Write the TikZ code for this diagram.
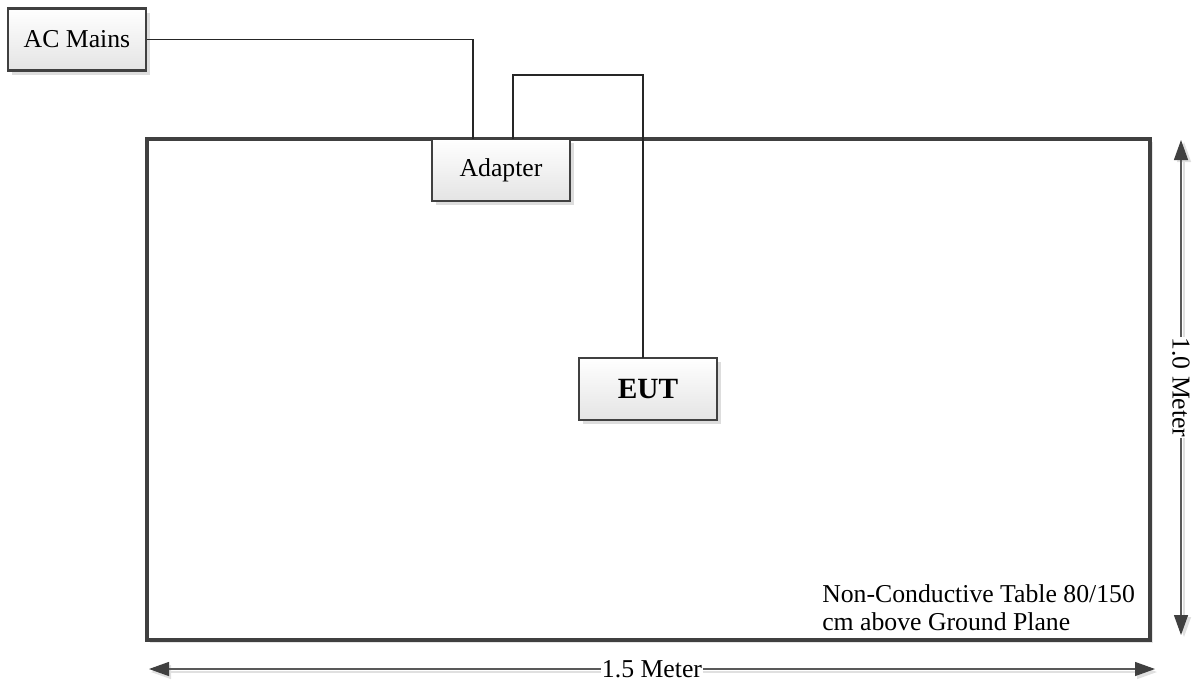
\documentclass[tikz,border=0pt]{standalone}
\usepackage{fontspec}
\setmainfont{Liberation Serif}
\usetikzlibrary{arrows.meta,shadows}

\definecolor{boxline}{HTML}{404040}
\definecolor{boxshade}{HTML}{DDDDDD}
\definecolor{boxbottom}{HTML}{E4E4E4}

\tikzset{
  devbox/.style={draw=boxline, line width=2pt, top color=white, bottom color=boxbottom,
    minimum width=103.5pt, minimum height=46.5pt, inner sep=0pt,
    font=\fontsize{19.3}{23}\selectfont,
    drop shadow={shadow xshift=3pt, shadow yshift=-3pt, fill=boxshade, opacity=1}},
  tablebox/.style={draw=boxline, line width=3pt, fill=white, inner sep=0pt,
    minimum width=752pt, minimum height=375.75pt,
    drop shadow={shadow xshift=2pt, shadow yshift=-2pt, fill=black!10, opacity=1}},
  wire/.style={draw=black!85, line width=0.8pt},
  dimline/.style={draw=black!65, line width=1pt,
    {Triangle[length=15pt,width=10.5pt,color=boxline]}-{Triangle[length=15pt,width=10.5pt,color=boxline]}},
  dimshade/.style={draw=black!12, line width=1pt,
    {Triangle[length=15pt,width=10.5pt]}-{Triangle[length=15pt,width=10.5pt]}},
  dimlabel/.style={fill=white, inner sep=0.5pt, font=\fontsize{19.3}{23}\selectfont}
}

\begin{document}
\begin{tikzpicture}[x=0.75pt, y=-0.75pt]
% Page size as the reference (pixels)
\useasboundingbox (0,0) rectangle (1192,682);

% Table and devices
\node[tablebox] (table) at (648.5,389.5) {};
\node[devbox] (mains) at (77,39.5) {AC Mains};
\node[devbox] (adapter) at (501,170) {Adapter};
\node[devbox, font=\fontsize{22}{26}\selectfont\bfseries] (eut) at (648,389) {EUT};
\node[anchor=north west, inner sep=0pt, align=left, font=\fontsize{19.3}{21}\selectfont] (tablenote) at (822,584)
  {Non-Conductive Table 80/150\\cm above Ground Plane};

% Cables
\coordinate (acin) at (473,139);
\coordinate (dcout) at (513,139);
\coordinate (eutin) at (643,358);
\draw[wire] (mains.east) -| (acin);
\draw[wire] (dcout) -- ++(0,-64) -| (eutin);

% Dimensions
\coordinate (hleft) at (149,669);
\coordinate (hright) at (1155,669);
\coordinate (vtop) at (1181,140);
\coordinate (vbottom) at (1181,635);
\draw[dimshade] ([shift={(2,3)}]hleft) -- ([shift={(2,3)}]hright);
\draw[dimshade] ([shift={(3,2)}]vtop) -- ([shift={(3,2)}]vbottom);
\draw[dimline] (hleft) -- node[dimlabel] (hdim) {1.5 Meter} (hright);
\draw[dimline] (vtop) -- node[dimlabel, rotate=-90] (vdim) {1.0 Meter} (vbottom);
\end{tikzpicture}
\end{document}
